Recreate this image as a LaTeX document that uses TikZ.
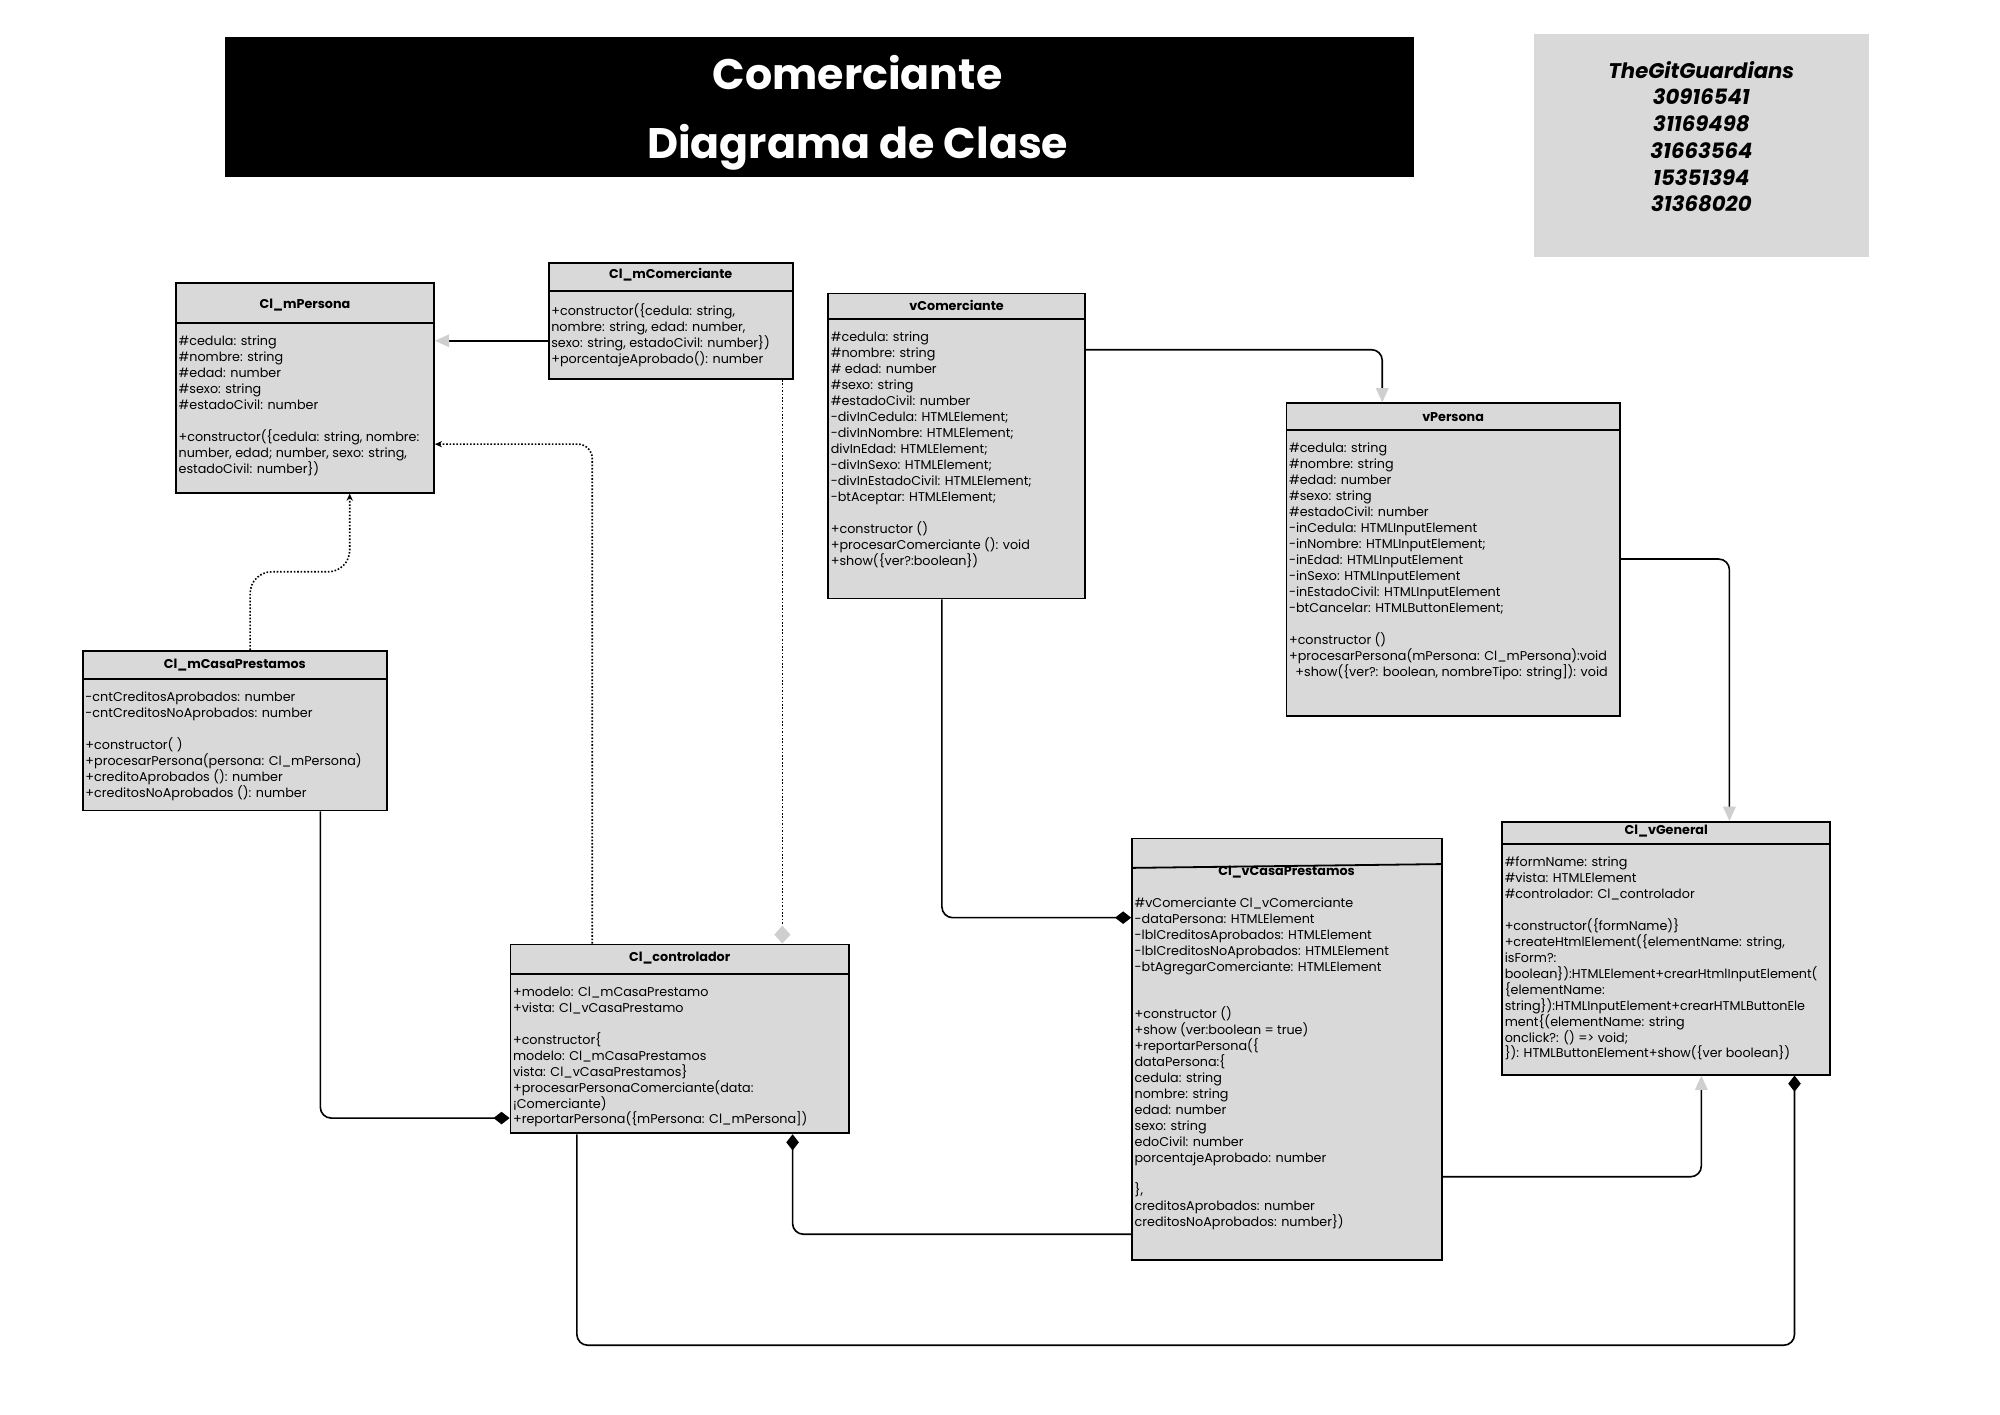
\documentclass[tikz,border=0pt]{standalone}
\usepackage{fontspec}
\setmainfont{Poppins}
\usetikzlibrary{arrows.meta,fit}
\definecolor{gris}{HTML}{D9D9D9}
\definecolor{grisflecha}{HTML}{CFCFCF}
\begin{document}
\begin{tikzpicture}[x=0.025cm, y=-0.025cm,
    caja/.style={draw, fill=gris, line width=1pt, inner sep=0pt},
    titulo/.style={font=\fontsize{7.1}{8.9}\selectfont\bfseries},
    cuerpo/.style={anchor=north west, align=left, inner xsep=1.2pt, inner ysep=7pt, font=\fontsize{7.1}{8.9}\selectfont},
    linea/.style={line width=0.9pt},
    hereda/.style={linea, -{Triangle[length=8pt, width=7pt, color=grisflecha]}},
    compone/.style={linea, -{Diamond[length=9pt, width=7pt]}},
    usa/.style={linea, densely dotted, -{Stealth[length=4pt, width=3.5pt]}},
    agrega/.style={linea, densely dotted, -{Diamond[length=10pt, width=9pt, color=grisflecha]}}]
    \newcommand{\clase}[9]{%
        \node[caja, fit={(#2,#3) (#4,#5)}] (#1) {};
        \draw[line width=1pt] (#2,#6) -- (#4,#6);
        \node[titulo] (#1-t) at ({(#2+#4)/2},#7) {#8};
        \node[cuerpo] (#1-c) at (#2,#6) {#9};
    }
    \useasboundingbox (0,0) rectangle (1567,1108);

    % encabezado
    \node[fill=black, fit={(176,29) (1108,139)}, inner sep=0pt] (cabecera) {};
    \node[text=white, font=\fontsize{23.8}{28}\selectfont\bfseries] (tit1) at (672,57) {Comerciante};
    \node[text=white, font=\fontsize{23.8}{28}\selectfont\bfseries] (tit2) at (672,115) {Diagrama de Clase};
    \node[fill=gris, fit={(1202,27) (1464,201)}, inner sep=0pt] (equipo) {};
    \node[align=center, font=\fontsize{11.8}{14.9}\selectfont\bfseries\itshape] (nombres) at (1333,107)
        {TheGitGuardians\\30916541\\31169498\\31663564\\15351394\\31368020};

    % clases
    \clase{mpersona}{138}{222}{340}{386}{253}{239}{Cl\_mPersona}{\#cedula: string\\\#nombre: string\\\#edad: number\\\#sexo: string\\\#estadoCivil: number\\[8.9pt]+constructor(\{cedula: string, nombre:\\number, edad; number, sexo: string,\\estadoCivil: number\})}
    \clase{mcomerciante}{430}{206}{621}{297}{228}{215}{Cl\_mComerciante}{+constructor(\{cedula: string,\\nombre: string, edad: number,\\sexo: string, estadoCivil: number\})\\+porcentajeAprobado(): number}
    \clase{vcomerciante}{649}{230}{850}{469}{250}{239}{vComerciante}{\#cedula: string\\\#nombre: string\\\# edad: number\\\#sexo: string\\\#estadoCivil: number\\-divInCedula: HTMLElement;\\-divInNombre: HTMLElement;\\divInEdad: HTMLElement;\\-divInSexo: HTMLElement;\\-divInEstadoCivil: HTMLElement;\\-btAceptar: HTMLElement;\\[8.9pt]+constructor ()\\+procesarComerciante (): void\\+show(\{ver?:boolean\})}
    \clase{vpersona}{1008}{316}{1269}{561}{337}{327}{vPersona}{\#cedula: string\\\#nombre: string\\\#edad: number\\\#sexo: string\\\#estadoCivil: number\\-inCedula: HTMLInputElement\\-inNombre: HTMLInputElement;\\-inEdad: HTMLInputElement\\-inSexo: HTMLInputElement\\-inEstadoCivil: HTMLInputElement\\-btCancelar: HTMLButtonElement;\\[8.9pt]+constructor ()\\+procesarPersona(mPersona: Cl\_mPersona):void\\\hspace{0.5em}+show(\{ver?: boolean, nombreTipo: string]): void}
    \clase{mcasa}{65}{510}{303}{635}{532}{521}{Cl\_mCasaPrestamos}{-cntCreditosAprobados: number\\-cntCreditosNoAprobados: number\\[8.9pt]+constructor( )\\+procesarPersona(persona: Cl\_mPersona)\\+creditoAprobados (): number\\+creditosNoAprobados (): number}
    \clase{controlador}{400}{740}{665}{888}{763}{751}{Cl\_controlador}{+modelo: Cl\_mCasaPrestamo\\+vista: Cl\_vCasaPrestamo\\[8.9pt]+constructor\{\\modelo: Cl\_mCasaPrestamos\\vista: Cl\_vCasaPrestamos\}\\+procesarPersonaComerciante(data:\\¡Comerciante)\\+reportarPersona(\{mPersona: Cl\_mPersona])}
    \clase{vgeneral}{1177}{644}{1434}{842}{661}{651}{Cl\_vGeneral}{\#formName: string\\\#vista: HTMLElement\\\#controlador: Cl\_controlador\\[8.9pt]+constructor(\{formName)\}\\+createHtmlElement(\{elementName: string,\\isForm?:\\boolean\}):HTMLElement+crearHtmlInputElement(\\\{elementName:\\string\}):HTMLInputElement+crearHTMLButtonEle\\ment\{(elementName: string\\onclick?: () => void;\\\}): HTMLButtonElement+show(\{ver boolean\})}

    % Cl_vCasaPrestamos (titulo sobre la linea)
    \node[caja, fit={(887,657) (1130,987)}] (vcasa) {};
    \draw[line width=1pt] (887,680) -- (1130,677);
    \node[titulo] (vcasa-t) at (1008,683) {Cl\_vCasaPrestamos};
    \node[cuerpo] (vcasa-c) at (887,693) {\#vComerciante Cl\_vComerciante\\-dataPersona: HTMLElement\\-lblCreditosAprobados: HTMLElement\\-lblCreditosNoAprobados: HTMLElement\\-btAgregarComerciante: HTMLElement\\[17.8pt]+constructor ()\\+show (ver:boolean = true)\\+reportarPersona(\{\\dataPersona:\{\\cedula: string\\nombre: string\\edad: number\\sexo: string\\edoCivil: number\\porcentajeAprobado: number\\[8.9pt]\},\\creditosAprobados: number\\creditosNoAprobados: number\})};

    % relaciones
    \draw[hereda] (mcomerciante.west |- 0,267) -- (mpersona.east |- 0,267);
    \draw[usa, rounded corners=12pt] (mcasa.north -| 196,0) |- (235,448) -| (mpersona.south -| 274,0);
    \draw[usa, rounded corners=8pt] (controlador.north -| 464,0) |- (mpersona.east |- 0,348);
    \draw[agrega] (mcomerciante.south -| 613,0) -- (controlador.north -| 613,0);
    \draw[hereda, rounded corners=6pt] (vcomerciante.east |- 0,274) -| (vpersona.north -| 1083,0);
    \draw[hereda, rounded corners=6pt] (vpersona.east |- 0,438) -| (vgeneral.north -| 1355,0);
    \draw[compone, rounded corners=6pt] (vcomerciante.south -| 738,0) |- (vcasa.west |- 0,719);
    \draw[compone, rounded corners=6pt] (mcasa.south -| 251,0) |- (controlador.west |- 0,876);
    \draw[compone, rounded corners=6pt] (vcasa.west |- 0,967) -| (controlador.south -| 621,0);
    \draw[hereda, rounded corners=6pt] (vcasa.east |- 0,922) -| (vgeneral.south -| 1333,0);
    \draw[compone, rounded corners=6pt] (controlador.south -| 452,0) |- (1406,1054) -- (vgeneral.south -| 1406,0);
\end{tikzpicture}
\end{document}
